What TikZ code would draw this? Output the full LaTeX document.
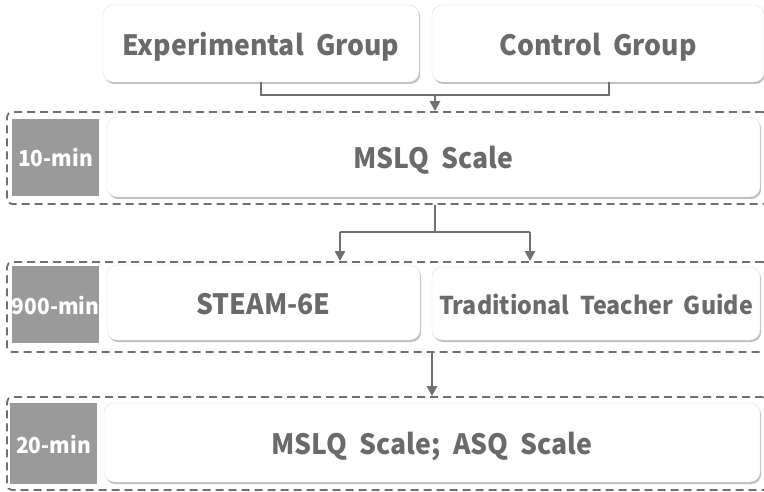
\documentclass[tikz,border=0pt]{standalone}
\usepackage{fontspec}
\setmainfont[FakeStretch=0.95, WordSpace={2}]{Noto Sans CJK KR}
\usetikzlibrary{shadows, arrows.meta}

\definecolor{inkgray}{HTML}{6A6A6A}
\definecolor{linegray}{HTML}{707070}
\definecolor{tagfill}{HTML}{9A9A9A}

\begin{document}
\begin{tikzpicture}[x=1pt, y=-1pt,
    card/.style={draw=black!12, fill=white, rounded corners=10pt, text=inkgray,
        drop shadow={shadow xshift=1.2pt, shadow yshift=-2pt, fill=black!50, opacity=0.5},
        font=\fontsize{28}{32}\selectfont\bfseries, inner sep=0pt,
        text height=24pt, text depth=0pt},
    longcard/.style={card, font=\fontsize{24.5}{28}\selectfont\bfseries, text height=21pt},
    timetag/.style={fill=tagfill, text=white, font=\fontsize{22}{26}\selectfont\bfseries,
        inner sep=0pt, minimum width=87pt, text height=19pt, text depth=0pt},
    stage/.style={draw=linegray, dash pattern=on 8pt off 5pt, line width=1.8pt,
        rounded corners=5pt, inner sep=0pt},
    link/.style={draw=linegray, line width=2.8pt},
    arrowlink/.style={link, -{Triangle[width=10pt, length=10pt]}}
    ]
    \useasboundingbox (0,0) rectangle (764,492);

    % --- groups ---
    \node[card, minimum width=316pt, minimum height=77pt] (exp) at (261,43.5) {Experimental Group};
    \node[card, minimum width=332pt, minimum height=77pt] (ctrl) at (598,43.5) {Control Group};

    % --- stage frames ---
    \node[stage, minimum width=761pt, minimum height=92pt] (stage1) at (387.5,158) {};
    \node[stage, minimum width=761pt, minimum height=90pt] (stage2) at (387.5,307) {};
    \node[stage, minimum width=761pt, minimum height=93pt] (stage3) at (387.5,443.5) {};

    % --- stage 1 ---
    \node[timetag, minimum height=77pt] (time1) at (55.5,157.5) {10-min};
    \node[card, minimum width=653pt, minimum height=80pt] (pre) at (433.5,157) {MSLQ Scale};

    % --- stage 2 ---
    \node[timetag, minimum height=77pt] (time2) at (55.5,304.5) {900-min};
    \node[card, minimum width=313pt, minimum height=75pt] (steam) at (263.5,302.5) {STEAM-6E};
    \node[longcard, minimum width=328pt, minimum height=73pt] (trad) at (596,303.5) {Traditional Teacher Guide};

    % --- stage 3 ---
    \node[timetag, minimum height=81pt] (time3) at (53.5,443.5) {20-min};
    \node[card, minimum width=656pt, minimum height=79pt] (post) at (432,442.5) {MSLQ Scale; ASQ Scale};

    % --- connectors ---
    \coordinate (merge) at (435,95);
    \draw[link] (exp.south) |- (merge) -| ([xshift=11pt]ctrl.south);
    \draw[arrowlink] (merge) -- (merge |- stage1.north);

    \coordinate (split) at (435,232);
    \coordinate (armL) at (340,232);
    \coordinate (armR) at (530,232);
    \draw[link] (split |- stage1.south) -- (split);
    \draw[link] (armL) -- (armR);
    \draw[arrowlink] (armL) -- (armL |- stage2.north);
    \draw[arrowlink] (armR) -- (armR |- stage2.north);

    \coordinate (drop) at (432,375);
    \draw[arrowlink] (drop |- stage2.south) -- (drop |- stage3.north);
\end{tikzpicture}
\end{document}
